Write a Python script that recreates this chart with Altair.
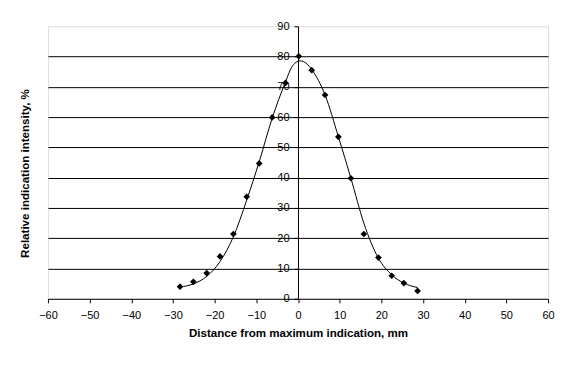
import altair as alt
import pandas as pd

# Measured points (diamonds)
pt_x = [-28.3, -25.1, -21.9, -18.7, -15.5, -12.3, -9.3, -6.2, -3.0, 0.2,
        3.3, 6.5, 9.7, 12.7, 15.8, 19.3, 22.5, 25.4, 28.7]
pt_y = [4.0, 5.6, 8.5, 14.0, 21.4, 33.7, 44.7, 59.9, 71.3, 80.1,
        75.5, 67.3, 53.5, 39.8, 21.4, 13.6, 7.6, 5.2, 2.6]

# Smooth trend curve
curve_x = [-28.3, -25.1, -21.9, -18.7, -15.5, -12.3, -9.3, -6.2, -3.0, -1.5,
           0.5, 2.2, 3.3, 6.5, 9.7, 12.7, 15.8, 19.3, 22.5, 25.4, 28.7]
curve_y = [3.9, 4.9, 7.4, 12.3, 20.5, 32.6, 45.3, 59.6, 71.6, 76.5,
           78.6, 77.5, 75.7, 67.3, 53.5, 39.8, 25.0, 13.4, 7.9, 5.2, 3.7]

x_ticks = list(range(-60, 61, 10))
y_ticks = list(range(0, 91, 10))
grid_vals = list(range(10, 81, 10))

x_title = "Distance from maximum indication, mm"
y_title = "Relative indication intensity, %"

pts = pd.DataFrame({"x": pt_x, "y": pt_y})
crv = pd.DataFrame({"x": curve_x, "y": curve_y})

FONT = "Liberation Sans"

xscale = alt.Scale(domain=[-60, 60], nice=False, zero=False)
yscale = alt.Scale(domain=[0, 90], nice=False, zero=False)

x_enc = alt.X("x:Q", scale=xscale, title=x_title,
              axis=alt.Axis(values=x_ticks, grid=False, domainColor="black",
                            tickColor="black", tickSize=4, labelPadding=7,
                            titlePadding=7, labelFontSize=11, titleFontSize=11.6,
                            titleFontWeight="bold", labelColor="black",
                            titleColor="black", labelFont=FONT, titleFont=FONT,
                            labelFlush=False))

grid_layer = alt.Chart(pts).mark_point(opacity=0).encode(
    x=x_enc,
    y=alt.Y("y:Q", scale=yscale, title=y_title,
            axis=alt.Axis(orient="left", values=grid_vals, grid=True,
                          gridColor="black", gridWidth=1, gridOpacity=1,
                          labels=False, ticks=False, domain=False,
                          titlePadding=17, titleFontSize=11.6, titleY=147,
                          titleFontWeight="bold", titleColor="black",
                          titleFont=FONT)),
)

line_layer = alt.Chart(crv).mark_line(color="black", strokeWidth=1,
                                      interpolate="monotone").encode(
    x=x_enc,
    y=alt.Y("y:Q", scale=yscale, title=None,
            axis=alt.Axis(orient="left", values=y_ticks, grid=False,
                          offset=-250.5, domainColor="black",
                          tickColor="black", tickSize=4, labelPadding=5,
                          labelFontSize=11, labelColor="black",
                          labelFont=FONT, labelFlush=False)),
)

point_layer = alt.Chart(pts).mark_point(shape="diamond", filled=True,
                                        color="black", size=45,
                                        opacity=1).encode(
    x=x_enc,
    y=alt.Y("y:Q", scale=yscale, axis=None),
)

chart = alt.layer(grid_layer, line_layer, point_layer).resolve_axis(
    y="independent"
).properties(
    width=501, height=273,
    autosize=alt.AutoSizeParams(type="none"),
    padding={"left": 40, "top": 18, "right": 20, "bottom": 50},
).configure_view(stroke="#808080", strokeWidth=1).configure(
    background="white"
)

chart.save("out.html", embed_options={"renderer": "svg", "actions": False})
